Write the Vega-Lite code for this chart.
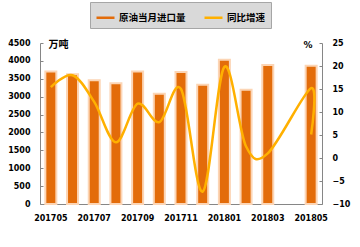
{
  "$schema": "https://vega.github.io/schema/vega-lite/v6.json",
  "width": 282,
  "height": 161,
  "autosize": {"type": "none"},
  "padding": {"left": 40, "top": 43, "right": 38, "bottom": 43},
  "background": "white",
  "config": {
    "view": {"stroke": null},
    "font": "DejaVu Sans",
    "axis": {
      "labelFont": "DejaVu Sans",
      "labelFontWeight": "bold",
      "labelFontSize": 8,
      "labelColor": "black",
      "domainColor": "#868686",
      "tickColor": "#868686",
      "grid": false
    },
    "legend": {
      "orient": "top",
      "layout": {"top": {"anchor": "middle", "direction": "horizontal", "bounds": "full"}},
      "offset": 14,
      "fillColor": "#D9D9D9",
      "strokeColor": "#A6A6A6",
      "padding": 5,
      "direction": "horizontal",
      "symbolType": "stroke",
      "symbolSize": 324,
      "symbolStrokeWidth": 2.5,
      "labelFont": "Noto Sans CJK SC",
      "labelFontSize": 9.5,
      "labelFontWeight": "bold",
      "labelColor": "black",
      "labelOffset": 3,
      "columnPadding": 13
    }
  },
  "data": {
    "values": [
      {"month": "201705", "imports": 3700, "growth": 15.4, "seq": 1},
      {"month": "201706", "imports": 3625, "growth": 18.0, "seq": 2},
      {"month": "201707", "imports": 3457, "growth": 12.2, "seq": 3},
      {"month": "201708", "imports": 3373, "growth": 3.4, "seq": 4},
      {"month": "201709", "imports": 3700, "growth": 11.8, "seq": 5},
      {"month": "201710", "imports": 3083, "growth": 7.8, "seq": 6},
      {"month": "201711", "imports": 3690, "growth": 15.0, "seq": 7},
      {"month": "201712", "imports": 3334, "growth": -7.3, "seq": 8},
      {"month": "201801", "imports": 4033, "growth": 19.8, "seq": 9},
      {"month": "201802", "imports": 3195, "growth": 2.5, "seq": 10},
      {"month": "201803", "imports": 3885, "growth": 1.0, "seq": 11},
      {"month": "201805", "imports": 3866, "growth": 15.2, "seq": 12},
      {"month": "201805", "imports": null, "growth": 5.1, "seq": 13}
    ]
  },
  "encoding": {
    "x": {
      "field": "month",
      "type": "ordinal",
      "scale": {
        "domain": ["201705","201706","201707","201708","201709","201710","201711","201712","201801","201802","201803","201804","201805"],
        "paddingInner": 0,
        "paddingOuter": 0
      },
      "axis": {
        "title": null,
        "labelAngle": 0,
        "ticks": false,
        "labelPadding": 10,
        "values": ["201705","201707","201709","201711","201801","201803","201805"]
      }
    }
  },
  "layer": [
    {
      "mark": {"type": "bar", "width": 11, "stroke": "#FCD5B5", "strokeWidth": 2},
      "encoding": {
        "y": {
          "field": "imports",
          "type": "quantitative",
          "scale": {"domain": [0, 4500], "nice": false},
          "axis": {
            "orient": "left",
            "format": "d",
            "values": [0,500,1000,1500,2000,2500,3000,3500,4000,4500],
            "tickSize": -3,
            "labelPadding": 13,
            "title": "万吨",
            "titleAngle": 0,
            "titleX": 8,
            "titleY": 1,
            "titleAlign": "left",
            "titleBaseline": "middle",
            "titleFont": "Noto Sans CJK SC",
            "titleFontSize": 10,
            "titleFontWeight": "bold",
            "titleColor": "black"
          }
        },
        "color": {
          "datum": "原油当月进口量",
          "type": "nominal",
          "scale": {"domain": ["原油当月进口量", "同比增速"], "range": ["#E36C0A", "#FFB000"]},
          "legend": {"title": null}
        }
      }
    },
    {
      "mark": {"type": "line", "interpolate": "cardinal", "strokeWidth": 2.5},
      "encoding": {
        "y": {
          "field": "growth",
          "type": "quantitative",
          "scale": {"domain": [-10, 25], "nice": false},
          "axis": {
            "orient": "right",
            "values": [-10,-5,0,5,10,15,20,25],
            "tickSize": -3,
            "labelPadding": 13,
            "title": "%",
            "titleAngle": 0,
            "titleX": -10,
            "titleY": 1,
            "titleAlign": "right",
            "titleBaseline": "middle",
            "titleFont": "DejaVu Sans",
            "titleFontSize": 9,
            "titleFontWeight": "bold",
            "titleColor": "black"
          }
        },
        "order": {"field": "seq", "type": "quantitative"},
        "color": {"datum": "同比增速", "type": "nominal", "legend": {"title": null}}
      }
    }
  ],
  "resolve": {"scale": {"y": "independent"}}
}
